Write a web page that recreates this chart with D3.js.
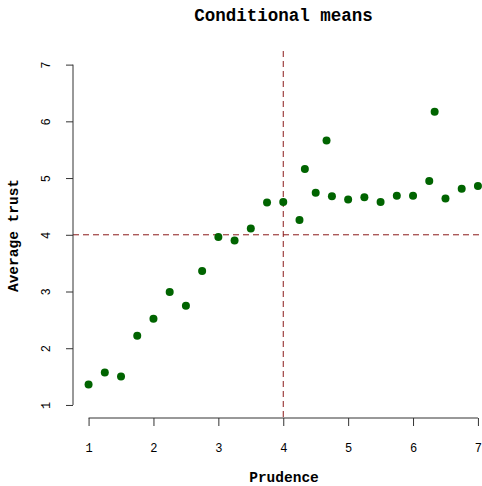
<!DOCTYPE html>
<html>
<head>
<meta charset="utf-8">
<script src="https://cdn.jsdelivr.net/npm/d3@7"></script>
<style>
body { margin: 0; background: #fff; }
text { font-family: "Liberation Mono", "DejaVu Sans Mono", monospace; }
</style>
</head>
<body>
<div id="chart"></div>
<script>
var w = 482, h = 486;

// prudence level and average trust at that level
var prudence = [1, 1.25, 1.5, 1.75, 2, 2.25, 2.5, 2.75, 3, 3.25, 3.5, 3.75, 4, 4.25, 4.333, 4.5, 4.667, 4.75,
	5, 5.25, 5.5, 5.75, 6, 6.25, 6.333, 6.5, 6.75, 7];
var trust = [1.36, 1.57, 1.50, 2.22, 2.52, 2.99, 2.75, 3.36, 3.96, 3.90, 4.11, 4.57, 4.58, 4.26, 5.16, 4.74, 5.66, 4.68,
	4.62, 4.66, 4.58, 4.69, 4.69, 4.95, 6.17, 4.64, 4.81, 4.86];
var xTicks = [1, 2, 3, 4, 5, 6, 7];
var yTicks = [1, 2, 3, 4, 5, 6, 7];
var refX = 4, refY = 4;

var green = "#006400";
var red = "#8b1a1a";

// plot region, R style (4% padding outside 1..7)
var x = d3.scaleLinear().domain([0.76, 7.24]).range([73, 493.5]);
var y = d3.scaleLinear().domain([0.77, 7.24]).range([418, 51]);

var svg = d3.select("#chart").append("svg")
	.attr("width", w)
	.attr("height", h);

var g = svg.append("g");

// reference lines
g.append("line")
	.attr("x1", x(refX)).attr("x2", x(refX))
	.attr("y1", y.range()[1]).attr("y2", y.range()[0])
	.attr("stroke", red)
	.attr("stroke-dasharray", "6,4");

g.append("line")
	.attr("x1", x.range()[0]).attr("x2", x.range()[1])
	.attr("y1", y(refY)).attr("y2", y(refY))
	.attr("stroke", red)
	.attr("stroke-dasharray", "6,4");

// points
g.selectAll("circle")
	.data(prudence)
	.enter()
	.append("circle")
	.attr("cx", d => x(d))
	.attr("cy", (d, i) => y(trust[i]))
	.attr("r", 4)
	.attr("fill", green);

// x axis
var xAxis = svg.append("g")
	.attr("transform", "translate(0,418)")
	.call(d3.axisBottom(x).tickValues(xTicks).tickSize(8).tickPadding(17).tickFormat(d3.format("d")));
xAxis.select(".domain").attr("d", "M" + x(1) + ",0H" + x(7)).attr("stroke", "#333");
xAxis.selectAll(".tick line").attr("stroke", "#333");
xAxis.selectAll("text")
	.style("font-size", "12px")
	.style("font-family", "Liberation Mono, monospace")
	.attr("fill", "#000");

// y axis
var yAxis = svg.append("g")
	.attr("transform", "translate(73,0)")
	.call(d3.axisLeft(y).tickValues(yTicks).tickSize(7).tickFormat(d3.format("d")));
yAxis.select(".domain").attr("d", "M0," + y(1) + "V" + y(7)).attr("stroke", "#333");
yAxis.selectAll(".tick line").attr("stroke", "#333");
yAxis.selectAll("text")
	.attr("x", 0).attr("dy", 0)
	.attr("text-anchor", "middle")
	.attr("transform", "translate(-26,0) rotate(-90)")
	.attr("dominant-baseline", "central")
	.style("font-size", "12px")
	.style("font-family", "Liberation Mono, monospace")
	.attr("fill", "#000");

// titles
svg.append("text")
	.attr("x", 283.5)
	.attr("y", 21)
	.attr("text-anchor", "middle")
	.style("font-size", "17.5px")
	.style("font-weight", "bold")
	.text("Conditional means");

svg.append("text")
	.attr("x", 284)
	.attr("y", 482)
	.attr("text-anchor", "middle")
	.style("font-size", "14.5px")
	.style("font-weight", "bold")
	.text("Prudence");

svg.append("text")
	.attr("transform", "translate(18,235.5) rotate(-90)")
	.attr("text-anchor", "middle")
	.style("font-size", "14.5px")
	.style("font-weight", "bold")
	.text("Average trust");
</script>
</body>
</html>
